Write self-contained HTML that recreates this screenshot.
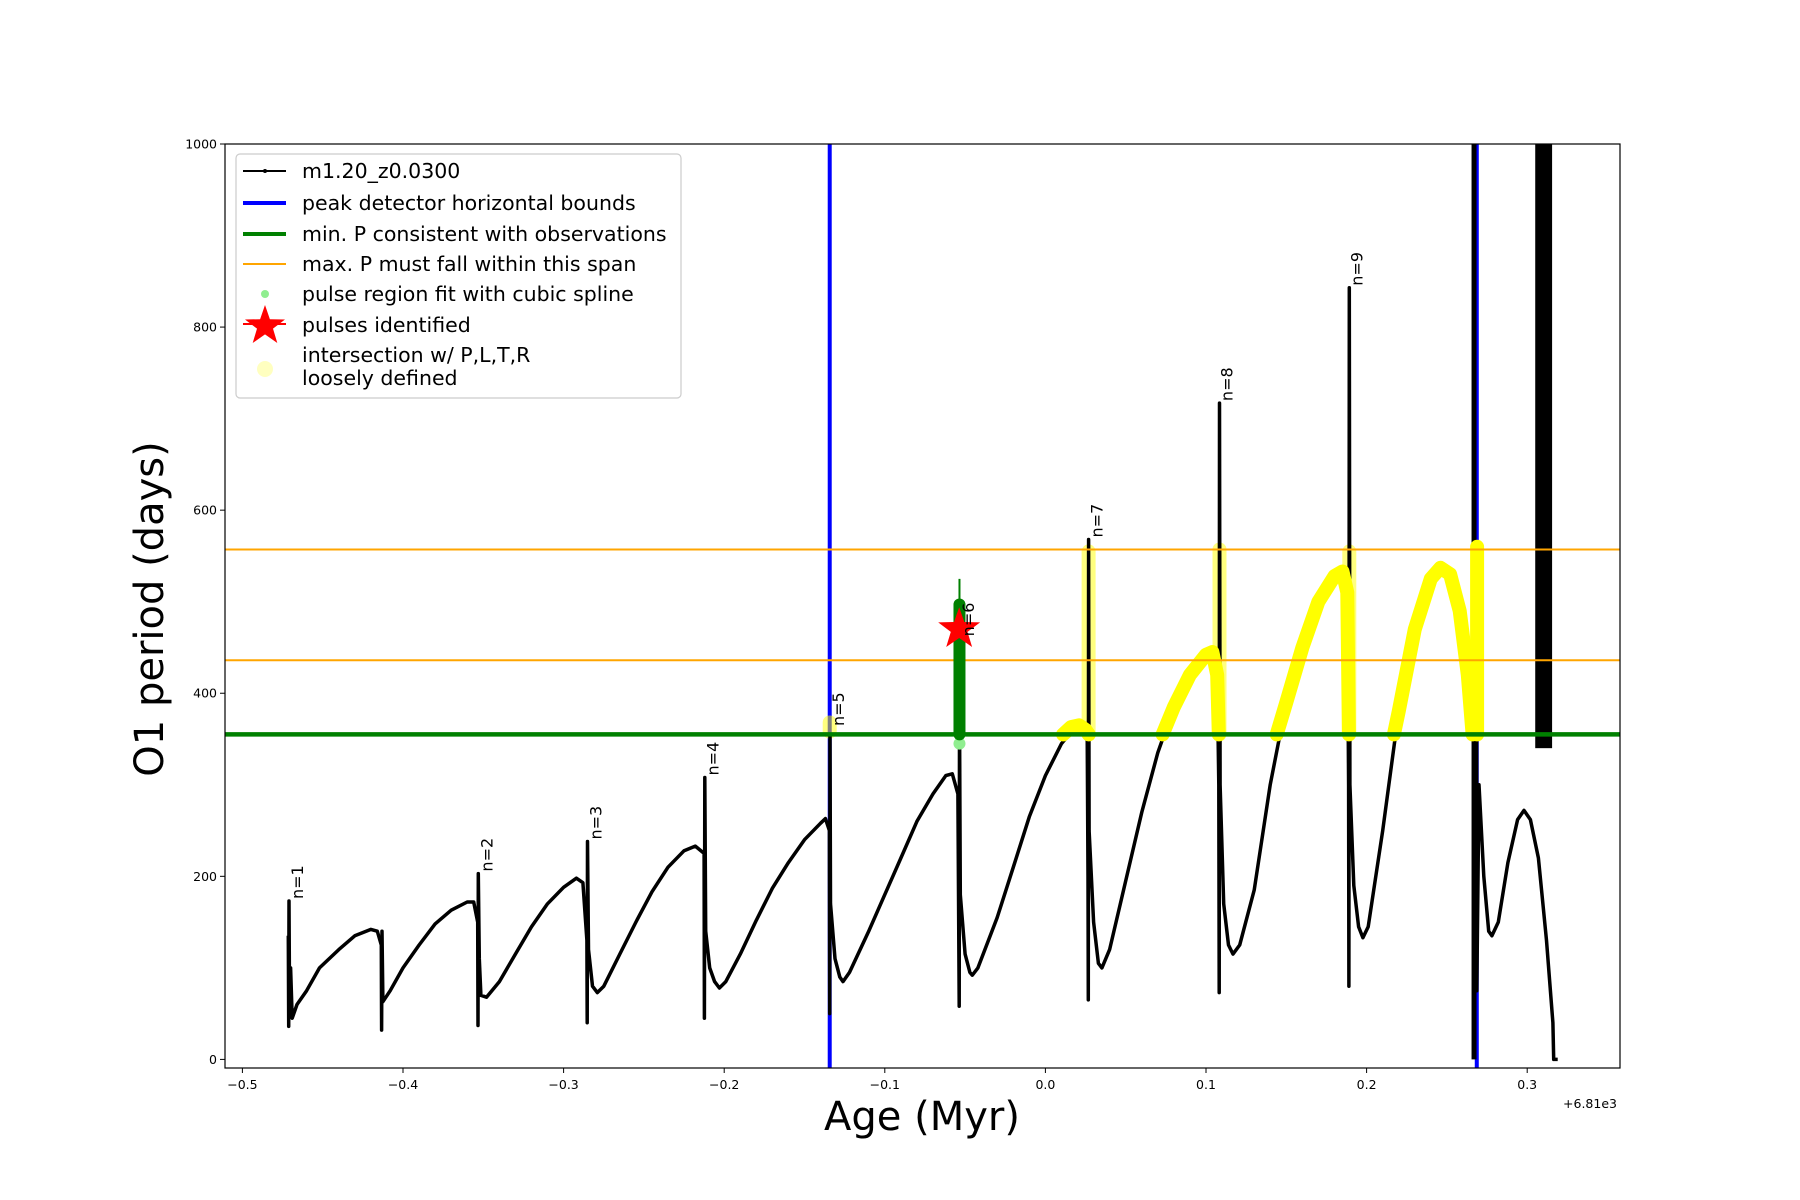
<!DOCTYPE html>
<html><head><meta charset="utf-8"><style>
html,body{margin:0;padding:0;background:#fff}
svg{display:block;font-family:"DejaVu Sans","Liberation Sans",sans-serif}
</style></head><body>
<svg id="chart" width="1800" height="1200" viewBox="0 0 1800 1200">
<rect width="1800" height="1200" fill="#fff"/>
<g id="plot"></g>
<g id="axes"></g>
<g id="legend"></g>
</svg>
<script>
const xTicks=[-0.5,-0.4,-0.3,-0.2,-0.1,0.0,0.1,0.2,0.3];
const xTickLabels=["\u22120.5","\u22120.4","\u22120.3","\u22120.2","\u22120.1","0.0","0.1","0.2","0.3"];
const yTicks=[0,200,400,600,800,1000];
const yTickLabels=["0","200","400","600","800","1000"];
const blueBounds=[-0.1343,0.2686];
const minP=[355];
const maxPSpan=[557,436];
const curve=[[-0.4714,135],[-0.4712,36],[-0.4710,173],[-0.4706,50],[-0.4700,100],[-0.4690,45],[-0.466,60],[-0.460,75],[-0.452,100],[-0.44,120],[-0.43,135],[-0.42,142],[-0.416,140],[-0.4135,125],[-0.4133,32],[-0.4131,140],[-0.4125,63],[-0.408,75],[-0.400,100],[-0.39,125],[-0.38,148],[-0.37,163],[-0.36,172],[-0.356,172],[-0.3535,150],[-0.3533,37],[-0.3531,203],[-0.3525,110],[-0.3515,70],[-0.348,68],[-0.34,85],[-0.33,115],[-0.32,145],[-0.31,170],[-0.30,188],[-0.292,198],[-0.288,193],[-0.2855,130],[-0.2853,40],[-0.2851,238],[-0.2845,120],[-0.282,80],[-0.279,73],[-0.275,80],[-0.265,115],[-0.255,150],[-0.245,183],[-0.235,210],[-0.225,228],[-0.218,233],[-0.2125,225],[-0.2123,45],[-0.2121,308],[-0.2115,140],[-0.209,100],[-0.206,85],[-0.203,78],[-0.199,85],[-0.19,115],[-0.18,152],[-0.17,187],[-0.16,215],[-0.15,240],[-0.14,258],[-0.137,263],[-0.1345,250],[-0.1343,50],[-0.1341,355],[-0.1338,170],[-0.131,110],[-0.128,90],[-0.126,85],[-0.122,95],[-0.11,140],[-0.10,180],[-0.09,220],[-0.08,260],[-0.07,290],[-0.062,310],[-0.058,312],[-0.0545,290],[-0.0537,58],[-0.0535,380],[-0.053,180],[-0.050,115],[-0.047,95],[-0.0455,92],[-0.042,100],[-0.03,155],[-0.02,210],[-0.01,265],[0.0,310],[0.01,345],[0.018,362],[0.023,360],[0.026,355],[0.0265,200],[0.0267,65],[0.0269,568],[0.0272,250],[0.030,150],[0.033,105],[0.0352,100],[0.04,120],[0.05,195],[0.06,270],[0.07,335],[0.08,385],[0.09,420],[0.10,442],[0.104,445],[0.107,420],[0.1080,300],[0.1082,73],[0.1084,717],[0.1088,300],[0.111,170],[0.114,125],[0.1168,115],[0.121,125],[0.13,185],[0.14,300],[0.15,390],[0.16,450],[0.17,500],[0.18,528],[0.185,533],[0.188,510],[0.1888,300],[0.1890,80],[0.1892,843],[0.1896,300],[0.192,190],[0.195,145],[0.1977,133],[0.201,145],[0.21,250],[0.22,380],[0.23,470],[0.24,525],[0.246,537],[0.252,530],[0.258,490],[0.263,420],[0.266,355],[0.2668,560],[0.2684,560],[0.2686,75],[0.270,300],[0.273,200],[0.276,140],[0.278,135],[0.282,150],[0.288,215],[0.294,262],[0.298,272],[0.302,262],[0.307,220],[0.312,130],[0.316,40],[0.3165,0],[0.319,0]];
const blackBar=[0.2669,0,1000];
const blackBand=[0.3050,0.3155,340,1000];
const yellowArcs=[
 [[0.011,355],[0.016,363],[0.021,365],[0.025,360],[0.027,355]],
 [[0.073,355],[0.08,385],[0.09,420],[0.10,442],[0.104,445],[0.107,420],[0.108,355]],
 [[0.144,355],[0.15,390],[0.16,450],[0.17,500],[0.18,528],[0.185,533],[0.188,510],[0.189,355]],
 [[0.217,355],[0.22,380],[0.23,470],[0.24,525],[0.246,537],[0.252,530],[0.258,490],[0.263,420],[0.266,355]],
 [[0.2688,355],[0.2688,560]]
];
const yellowFaint=[
 [[-0.1343,358],[-0.1343,368]],
 [[0.0269,355],[0.0269,555]],
 [[0.1084,355],[0.1084,557]],
 [[0.1892,355],[0.1892,555]]
];
const greenPulse=[-0.0535,355,497,525];
const lightGreenDot=[-0.0535,345];
const starPoint=[-0.0537,470];
const nLabels=["n=1","n=2","n=3","n=4","n=5","n=6","n=7","n=8","n=9"];
const nLabelX=[-0.4705,-0.3525,-0.2845,-0.2115,-0.1335,-0.0525,0.0275,0.1085,0.1895];
const nLabelY=[173,203,238,308,362,460,568,717,843];

const NS="http://www.w3.org/2000/svg";
const L=225,R=1620,T=144,B=1068;
const X0=-0.5,XPX0=242.4,XS=1606;
const YPX0=1059.4,YS=0.9154;
function sx(v){return XPX0+(v-X0)*XS;}
function sy(v){return YPX0-v*YS;}
function mk(tag,attrs,parent){const e=document.createElementNS(NS,tag);for(const k in attrs)e.setAttribute(k,attrs[k]);parent.appendChild(e);return e;}
const plot=document.getElementById('plot'),axes=document.getElementById('axes'),legend=document.getElementById('legend');
const cp=mk('clipPath',{id:'clip'},plot);
mk('rect',{x:L,y:T,width:R-L,height:B-T},cp);
const g=mk('g',{'clip-path':'url(#clip)'},plot);
function pathOf(pts){return pts.map((p,i)=>(i?'L':'M')+sx(p[0]).toFixed(1)+','+sy(p[1]).toFixed(1)).join(' ');}

blueBounds.forEach((b,i)=>{const e=mk('line',{x1:sx(b),x2:sx(b),y1:T,y2:B,stroke:'#0000ff','stroke-width':4},g);
});
yellowFaint.forEach((s,i)=>{const e=mk('path',{d:pathOf(s),fill:'none',stroke:'#ffff00','stroke-opacity':0.5,'stroke-width':14,'stroke-linecap':'round','stroke-linejoin':'round'},g);
});
const c=mk('path',{d:pathOf(curve),fill:'none',stroke:'#000','stroke-width':3.5,'stroke-linejoin':'round'},g);

const bb=mk('rect',{x:sx(blackBar[0])-2.5,y:sy(blackBar[2]),width:5,height:sy(blackBar[1])-sy(blackBar[2]),fill:'#000'},g);

const band=mk('rect',{x:sx(blackBand[0]),y:sy(blackBand[3]),width:sx(blackBand[1])-sx(blackBand[0]),height:sy(blackBand[2])-sy(blackBand[3]),fill:'#000'},g);

yellowArcs.forEach((s,i)=>{const e=mk('path',{d:pathOf(s),fill:'none',stroke:'#ffff00','stroke-width':14,'stroke-linecap':'round','stroke-linejoin':'round'},g);
});
maxPSpan.forEach((v,i)=>{const e=mk('line',{x1:L,x2:R,y1:sy(v),y2:sy(v),stroke:'#ffa500','stroke-width':2},g);
});
const gl=mk('line',{x1:L,x2:R,y1:sy(minP[0]),y2:sy(minP[0]),stroke:'#008000','stroke-width':4.5},g);

const ld=mk('circle',{cx:sx(lightGreenDot[0]),cy:sy(lightGreenDot[1]),r:6,fill:'#90ee90'},g);

const gt=mk('line',{x1:sx(greenPulse[0]),x2:sx(greenPulse[0]),y1:sy(greenPulse[1]),y2:sy(greenPulse[3]),stroke:'#008000','stroke-width':2},g);

const gp=mk('line',{x1:sx(greenPulse[0]),x2:sx(greenPulse[0]),y1:sy(greenPulse[1]),y2:sy(greenPulse[2]),stroke:'#008000','stroke-width':12,'stroke-linecap':'round'},g);

function starPts(cx,cy,r){let p=[];for(let i=0;i<10;i++){const a=-Math.PI/2+i*Math.PI/5,rr=i%2?r*0.4:r;p.push((cx+rr*Math.cos(a)).toFixed(1)+','+(cy+rr*Math.sin(a)).toFixed(1));}return p.join(' ');}
const st=mk('polygon',{points:starPts(sx(starPoint[0]),sy(starPoint[1]),22),fill:'#ff0000'},g);

nLabels.forEach((t,i)=>{const x=sx(nLabelX[i])+13,y=sy(nLabelY[i])-2;
const e=mk('text',{x:x,y:y,transform:'rotate(-90 '+x+' '+y+')','font-size':16,fill:'#000'},g);e.textContent=t;
});

const fr=mk('rect',{x:L,y:T,width:R-L,height:B-T,fill:'none',stroke:'#000','stroke-width':1.2},axes);

xTicks.forEach((v,i)=>{const x=sx(v);mk('line',{x1:x,x2:x,y1:B,y2:B+5,stroke:'#000','stroke-width':1},axes);
const e=mk('text',{x:x,y:B+21,'font-size':12.5,'text-anchor':'middle'},axes);e.textContent=xTickLabels[i];
});
yTicks.forEach((v,i)=>{const y=sy(v);mk('line',{x1:L-5,x2:L,y1:y,y2:y,stroke:'#000','stroke-width':1},axes);
const e=mk('text',{x:L-8,y:y+4.5,'font-size':12.5,'text-anchor':'end'},axes);e.textContent=yTickLabels[i];
});
const off=mk('text',{x:R-30,y:1108,'font-size':12.5,'text-anchor':'middle'},axes);off.textContent='+6.81e3';

const xt=mk('text',{x:922,y:1130,'font-size':40,'text-anchor':'middle'},axes);xt.textContent='Age (Myr)';

const yt=mk('text',{x:163,y:609,'font-size':40,'text-anchor':'middle',transform:'rotate(-90 163 609)'},axes);yt.textContent='O1 period (days)';


const lb=mk('rect',{x:236,y:154,width:445,height:244,rx:4,fill:'#fff','fill-opacity':0.8,stroke:'#ccc','stroke-width':1.2},legend);

const rows=[["m1.20_z0.0300",171],["peak detector horizontal bounds",203],["min. P consistent with observations",234],["max. P must fall within this span",264],["pulse region fit with cubic spline",294],["pulses identified",325]];
rows.forEach((r,i)=>{const e=mk('text',{x:302,y:r[1]+7,'font-size':20.5,fill:'#000'},legend);e.textContent=r[0];
});
const l7=mk('text',{x:302,y:362,'font-size':20.5},legend);l7.textContent='intersection w/ P,L,T,R';

const l8=mk('text',{x:302,y:385,'font-size':20.5},legend);l8.textContent='loosely defined';

mk('line',{x1:243,x2:286,y1:171,y2:171,stroke:'#000','stroke-width':2},legend);
mk('circle',{cx:265,cy:171,r:2,fill:'#000'},legend);
mk('line',{x1:243,x2:286,y1:203,y2:203,stroke:'#0000ff','stroke-width':4},legend);
mk('line',{x1:243,x2:286,y1:234,y2:234,stroke:'#008000','stroke-width':4},legend);
mk('line',{x1:243,x2:286,y1:264,y2:264,stroke:'#ffa500','stroke-width':2},legend);
mk('circle',{cx:265,cy:294,r:4,fill:'#90ee90'},legend);
mk('polygon',{points:starPts(265,326,21),fill:'#ff0000'},legend);
mk('line',{x1:243,x2:286,y1:324,y2:324,stroke:'#ff0000','stroke-width':2},legend);
mk('circle',{cx:265,cy:369,r:8,fill:'#ffffc0'},legend);
</script>
</body></html>
